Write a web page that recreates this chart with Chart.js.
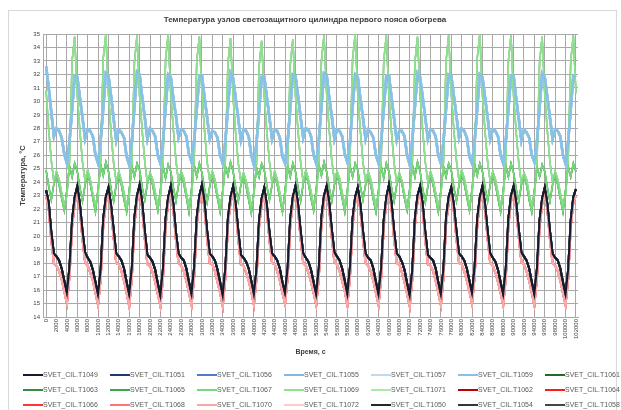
<!DOCTYPE html>
<html><head><meta charset="utf-8">
<script src="https://cdn.jsdelivr.net/npm/chart.js@4.4.1/dist/chart.umd.min.js"></script>
<style>
html,body{margin:0;padding:0;width:621px;height:410px;overflow:hidden;background:#fff;}
#wrap{position:relative;width:621px;height:410px;}
#frame{position:absolute;left:8px;top:10px;width:609px;height:420px;border:1px solid #d9d9d9;box-sizing:border-box;}
#c{position:absolute;left:0;top:0;}
#legend{position:absolute;left:0;top:0;width:621px;height:410px;font-family:'Liberation Sans',Arial,sans-serif;font-size:7px;color:#595959;pointer-events:none;}
.item{position:absolute;height:10px;white-space:nowrap;line-height:10px;}
.item .ln{position:absolute;left:0;top:4px;width:20px;height:2px;}
.item .tx{position:absolute;left:20px;top:0;}
</style></head>
<body><div id="wrap"><div id="frame"></div><canvas id="c" width="621" height="410"></canvas><div id="legend"></div></div>
<script>
const TITLE = 'Температура узлов светозащитного цилиндра первого пояса обогрева';
const Y_TITLE = 'Температура, °С';
const X_TITLE = 'Время, с';
const SAMPLE_STEP = 500; // s between samples

const xTicks = [0,2000,4000,6000,8000,10000,12000,14000,16000,18000,20000,22000,24000,26000,28000,30000,
32000,34000,36000,38000,40000,42000,44000,46000,48000,50000,52000,54000,56000,58000,60000,62000,64000,
66000,68000,70000,72000,74000,76000,78000,80000,82000,84000,86000,88000,90000,92000,94000,96000,98000,
100000,102000];

const blackT = [
23.4,22.5,20.3,18.7,18.5,18.2,17.6,16.7,15.8,17.7,21.2,22.9,
23.7,22.4,20.4,18.8,18.4,18.1,17.5,16.6,15.7,17.5,21.3,22.9,
23.6,22.3,20.5,18.7,18.5,18.2,17.6,16.6,15.7,17.6,21.4,23.0,
23.8,22.5,20.4,18.6,18.4,18.1,17.5,16.5,15.6,17.6,21.3,22.9,
23.7,22.4,20.3,18.7,18.4,18.2,17.6,16.6,15.7,17.7,21.4,23.0,
23.8,22.5,20.4,18.7,18.5,18.2,17.5,16.6,15.6,17.6,21.3,22.9,
23.7,22.4,20.4,18.6,18.4,18.1,17.6,16.7,15.7,17.5,21.2,22.8,
23.6,22.3,20.3,18.7,18.5,18.2,17.6,16.6,15.8,17.6,21.3,22.9,
23.7,22.4,20.4,18.7,18.4,18.1,17.5,16.6,15.7,17.6,21.4,23.0,
23.7,22.5,20.5,18.8,18.5,18.2,17.6,16.7,15.7,17.7,21.3,22.9,
23.6,22.4,20.4,18.7,18.4,18.2,17.6,16.6,15.7,17.6,21.2,22.9,
23.8,22.5,20.4,18.7,18.5,18.1,17.5,16.5,15.6,17.5,21.3,23.0,
23.7,22.4,20.3,18.6,18.4,18.2,17.6,16.6,15.7,17.6,21.4,22.9,
23.6,22.3,20.4,18.7,18.5,18.2,17.6,16.7,15.8,17.7,21.3,22.9,
23.7,22.4,20.4,18.7,18.4,18.1,17.5,16.6,15.7,17.6,21.3,23.0,
23.7,22.5,20.5,18.8,18.5,18.2,17.6,16.6,15.7,17.6,21.2,22.8,
23.6,22.4,20.4,18.7,18.4,18.2,17.6,16.6,15.7,17.5,21.2,22.9,
23.5];

const pinkT = [
23.0,22.1,19.7,18.0,17.8,17.4,16.8,15.9,15.0,17.0,20.7,22.4,
23.2,22.0,19.8,18.1,17.8,17.3,16.7,15.8,14.9,16.8,20.8,22.5,
23.1,21.9,19.9,18.0,17.9,17.4,16.7,15.8,14.8,16.9,20.9,22.6,
23.3,22.1,19.8,17.9,17.8,17.3,16.6,15.7,14.8,16.9,20.8,22.5,
23.2,22.0,19.7,18.0,17.8,17.4,16.7,15.8,14.9,17.0,20.9,22.6,
23.3,22.1,19.8,18.0,17.9,17.4,16.6,15.8,14.8,16.9,20.8,22.5,
23.2,22.0,19.8,17.9,17.8,17.3,16.7,15.9,14.9,16.8,20.7,22.4,
23.1,21.9,19.7,18.0,17.9,17.4,16.7,15.8,15.0,16.9,20.8,22.5,
23.2,22.0,19.8,18.0,17.8,17.3,16.6,15.8,14.9,16.9,20.9,22.6,
23.2,22.1,19.9,18.1,17.9,17.4,16.7,15.9,14.9,17.0,20.8,22.5,
23.1,22.0,19.8,18.0,17.8,17.4,16.7,15.8,14.9,16.9,20.7,22.5,
23.3,22.1,19.8,18.0,17.9,17.3,16.6,15.7,14.8,16.8,20.8,22.6,
23.2,22.0,19.7,17.9,17.8,17.4,16.7,15.8,14.9,16.9,20.9,22.5,
23.1,21.9,19.8,18.0,17.9,17.4,16.7,15.9,15.0,17.0,20.8,22.5,
23.2,22.0,19.8,18.0,17.8,17.3,16.6,15.8,14.9,16.9,20.8,22.6,
23.2,22.1,19.9,18.1,17.9,17.4,16.7,15.8,14.9,16.9,20.7,22.4,
23.1,22.0,19.8,18.0,17.8,17.4,16.7,15.8,14.9,16.8,20.7,22.5,
23.0];

const blueT = [
32.6,31.0,29.2,27.4,28.0,27.8,27.3,26.1,25.4,27.0,29.4,31.9,
31.8,30.3,28.8,27.2,27.9,27.8,27.4,26.0,25.4,27.1,29.5,32.1,
31.9,30.4,28.7,27.1,27.9,27.7,27.3,25.9,25.3,27.0,29.6,32.2,
32.0,30.3,28.8,27.2,28.0,27.8,27.4,26.0,25.4,27.0,29.5,32.0,
31.8,30.2,28.9,27.3,27.9,27.8,27.4,26.1,25.5,27.1,29.4,31.9,
31.9,30.3,28.8,27.2,27.8,27.7,27.3,26.0,25.4,27.0,29.5,32.1,
31.7,30.2,28.7,27.1,27.9,27.8,27.4,26.0,25.3,26.9,29.3,31.8,
31.8,30.3,28.8,27.2,27.9,27.8,27.3,25.9,25.4,27.0,29.5,32.0,
31.9,30.4,28.8,27.3,28.0,27.9,27.4,26.0,25.4,27.1,29.6,32.1,
32.0,30.3,28.9,27.2,27.9,27.8,27.4,26.1,25.5,27.0,29.5,32.0,
31.8,30.2,28.8,27.2,27.9,27.7,27.3,26.0,25.4,27.0,29.4,31.9,
31.9,30.3,28.7,27.1,27.8,27.8,27.4,26.0,25.3,27.1,29.6,32.1,
31.8,30.3,28.8,27.2,27.9,27.8,27.4,26.0,25.4,27.0,29.5,32.0,
31.9,30.4,28.9,27.3,28.0,27.8,27.3,25.9,25.4,27.0,29.5,32.0,
31.8,30.3,28.8,27.2,27.9,27.8,27.4,26.0,25.4,27.1,29.4,31.9,
31.9,30.2,28.7,27.1,27.9,27.7,27.3,26.0,25.5,27.0,29.5,32.1,
31.8,30.3,28.8,27.2,27.9,27.8,27.4,26.0,25.4,27.0,29.4,31.9,
31.8];

const greenHighT = [
30.8,27.9,25.6,24.0,24.8,24.2,23.2,22.2,23.0,25.5,33.0,34.8,
30.5,27.8,25.5,24.1,24.9,24.2,23.1,22.3,23.1,25.6,33.2,35.0,
30.6,27.7,25.4,24.0,24.8,24.1,23.2,22.2,23.0,25.4,32.9,34.9,
30.4,27.8,25.5,23.9,24.7,24.2,23.3,22.1,22.9,25.5,33.1,35.0,
30.5,27.9,25.6,24.0,24.8,24.3,23.2,22.2,23.0,25.6,33.0,34.8,
30.6,27.8,25.5,24.1,24.8,24.2,23.1,22.3,23.1,25.5,32.8,34.7,
30.3,27.6,25.4,24.0,24.7,24.1,23.2,22.2,23.0,25.4,32.6,34.5,
30.4,27.7,25.5,23.9,24.8,24.2,23.2,22.1,22.9,25.3,32.7,34.6,
30.5,27.8,25.5,24.0,24.9,24.2,23.3,22.2,23.0,25.5,33.0,34.9,
30.6,27.9,25.6,24.1,24.8,24.3,23.2,22.3,23.1,25.6,33.1,35.0,
30.5,27.8,25.5,24.0,24.8,24.2,23.2,22.2,23.0,25.5,33.0,34.9,
30.4,27.7,25.4,23.9,24.7,24.1,23.1,22.1,22.9,25.4,32.9,34.8,
30.5,27.8,25.5,24.0,24.8,24.2,23.2,22.2,23.0,25.5,33.0,34.9,
30.6,27.9,25.6,24.1,24.9,24.3,23.3,22.3,23.1,25.6,33.2,35.0,
30.5,27.8,25.5,24.0,24.8,24.2,23.2,22.2,23.0,25.5,33.0,34.9,
30.4,27.7,25.4,23.9,24.7,24.2,23.1,22.2,23.0,25.4,32.9,34.8,
30.5,27.8,25.5,24.0,24.8,24.2,23.2,22.2,23.0,25.5,33.0,34.9,
30.6];

const greenLowT = [
24.9,23.7,22.7,23.9,24.6,23.8,22.8,21.9,23.4,25.2,24.4,25.4,
24.8,23.6,22.6,23.8,24.6,23.9,22.8,21.8,23.5,25.3,24.5,25.5,
24.8,23.5,22.6,23.8,24.5,23.8,22.7,21.8,23.4,25.2,24.4,25.4,
24.9,23.6,22.7,23.9,24.6,23.8,22.8,21.9,23.4,25.2,24.3,25.3,
24.8,23.6,22.6,23.8,24.7,23.9,22.9,21.8,23.5,25.3,24.4,25.4,
24.7,23.5,22.5,23.7,24.6,23.8,22.8,21.8,23.4,25.2,24.5,25.5,
24.8,23.6,22.6,23.8,24.5,23.7,22.7,21.7,23.3,25.1,24.4,25.4,
24.9,23.7,22.7,23.8,24.6,23.8,22.8,21.8,23.4,25.2,24.4,25.4,
24.8,23.6,22.6,23.9,24.6,23.9,22.8,21.9,23.5,25.3,24.5,25.5,
24.8,23.6,22.6,23.8,24.6,23.8,22.8,21.8,23.4,25.2,24.4,25.4,
24.9,23.7,22.7,23.8,24.5,23.8,22.7,21.8,23.4,25.2,24.3,25.4,
24.8,23.6,22.6,23.8,24.6,23.9,22.8,21.9,23.5,25.3,24.4,25.5,
24.8,23.5,22.5,23.7,24.6,23.8,22.8,21.8,23.4,25.2,24.4,25.4,
24.9,23.6,22.6,23.8,24.7,23.9,22.9,21.9,23.5,25.3,24.5,25.4,
24.8,23.6,22.6,23.8,24.6,23.8,22.8,21.8,23.4,25.2,24.4,25.4,
24.7,23.5,22.6,23.8,24.5,23.8,22.7,21.8,23.4,25.1,24.4,25.3,
24.8,23.6,22.6,23.8,24.6,23.8,22.8,21.8,23.4,25.2,24.4,25.4,
24.8];

const seriesNames = ['SVET_CIL.T1049','SVET_CIL.T1051','SVET_CIL.T1056','SVET_CIL.T1055','SVET_CIL.T1057','SVET_CIL.T1059','SVET_CIL.T1061',
'SVET_CIL.T1063','SVET_CIL.T1065','SVET_CIL.T1067','SVET_CIL.T1069','SVET_CIL.T1071','SVET_CIL.T1062','SVET_CIL.T1064',
'SVET_CIL.T1066','SVET_CIL.T1068','SVET_CIL.T1070','SVET_CIL.T1072','SVET_CIL.T1050','SVET_CIL.T1054','SVET_CIL.T1058'];
const seriesColors = ['#151a2e','#1f3a6b','#4a7fc4','#8ab6de','#c2d8ee','#86c1e6','#1e6e2a',
'#2f8f3c','#3aa64a','#7ad87a','#8fe08f','#a9eaa9','#c00000','#ff1a1a',
'#ff3636','#ff7373','#f7a8a8','#ffcaca','#262626','#363636','#464646'];
const seriesData = [blackT,blackT,blueT,blueT,blueT,blueT,greenHighT,
greenLowT,greenLowT,greenLowT,greenHighT,greenHighT,pinkT,pinkT,
pinkT,pinkT,pinkT,pinkT,blackT,blackT,blackT];
const seriesWidth = [2,2,2.5,2.5,2.5,2.5,1.5,1.5,1.5,1.5,1.5,1.5,2,2,2,2,2,2,2,2,2];
const seriesOrder = [0,20,19,18,17,1,16,15,14,2,3,13,12,11,10,9,4,8,7,6,5];

const datasets = seriesNames.map((n,i)=>({
  label:n,
  data: seriesData[i].map((v,k)=>({x:k*SAMPLE_STEP,y:v})),
  borderColor: seriesColors[i],
  backgroundColor: seriesColors[i],
  borderWidth: seriesWidth[i],
  pointRadius:0, tension:0, fill:false,
  order: seriesOrder[i]
}));

const FONT = "'Liberation Sans', Arial, sans-serif";
const overlay = {
  id:'overlay',
  afterDraw(chart){
    const ctx = chart.ctx;
    ctx.save();
    ctx.fillStyle = '#404040';
    ctx.font = 'bold 8px ' + FONT;
    ctx.textAlign = 'center';
    ctx.textBaseline = 'middle';
    ctx.fillText(TITLE, 305, 20);
    ctx.restore();
  }
};

new Chart(document.getElementById('c'), {
  type:'line',
  data:{datasets},
  options:{
    responsive:false, animation:false,
    layout:{padding:{left:14,right:43,top:34,bottom:52}},
    plugins:{legend:{display:false}, tooltip:{enabled:false}, title:{display:false}},
    scales:{
      x:{type:'linear', min:-600, max:102400,
        afterBuildTicks(s){ s.ticks = xTicks.map(v=>({value:v})); },
        afterFit(s){ s.height = 41; },
        ticks:{autoSkip:false, minRotation:90, maxRotation:90, font:{size:6, family:FONT}, color:'#404040', padding:2,
          callback:(v)=>String(v)},
        grid:{color:'#a8a8a8', lineWidth:1, drawTicks:false},
        border:{color:'#a8a8a8'},
        title:{display:true, text:X_TITLE, font:{size:7, weight:'bold', family:FONT}, color:'#404040', padding:{top:0,bottom:2}}
      },
      y:{min:14, max:35,
        afterFit(s){ s.width = 29; },
        ticks:{stepSize:1, font:{size:6, family:FONT}, color:'#404040', padding:3},
        grid:{color:'#a8a8a8', lineWidth:1, drawTicks:false},
        border:{color:'#a8a8a8'},
        title:{display:true, text:Y_TITLE, font:{size:7.5, weight:'bold', family:FONT}, color:'#404040', padding:{top:4,bottom:0}}
      }
    }
  },
  plugins:[overlay]
});

// legend (HTML, real text)
const lg = document.getElementById('legend');
seriesNames.forEach((n,i)=>{
  const col = i % 7, row = Math.floor(i/7);
  const d = document.createElement('div');
  d.className='item';
  d.style.left = (23 + col*87) + 'px';
  d.style.top = (370 + row*15) + 'px';
  d.innerHTML = '<span class="ln" style="background:'+seriesColors[i]+'"></span><span class="tx">'+n+'</span>';
  lg.appendChild(d);
});
</script></body></html>
